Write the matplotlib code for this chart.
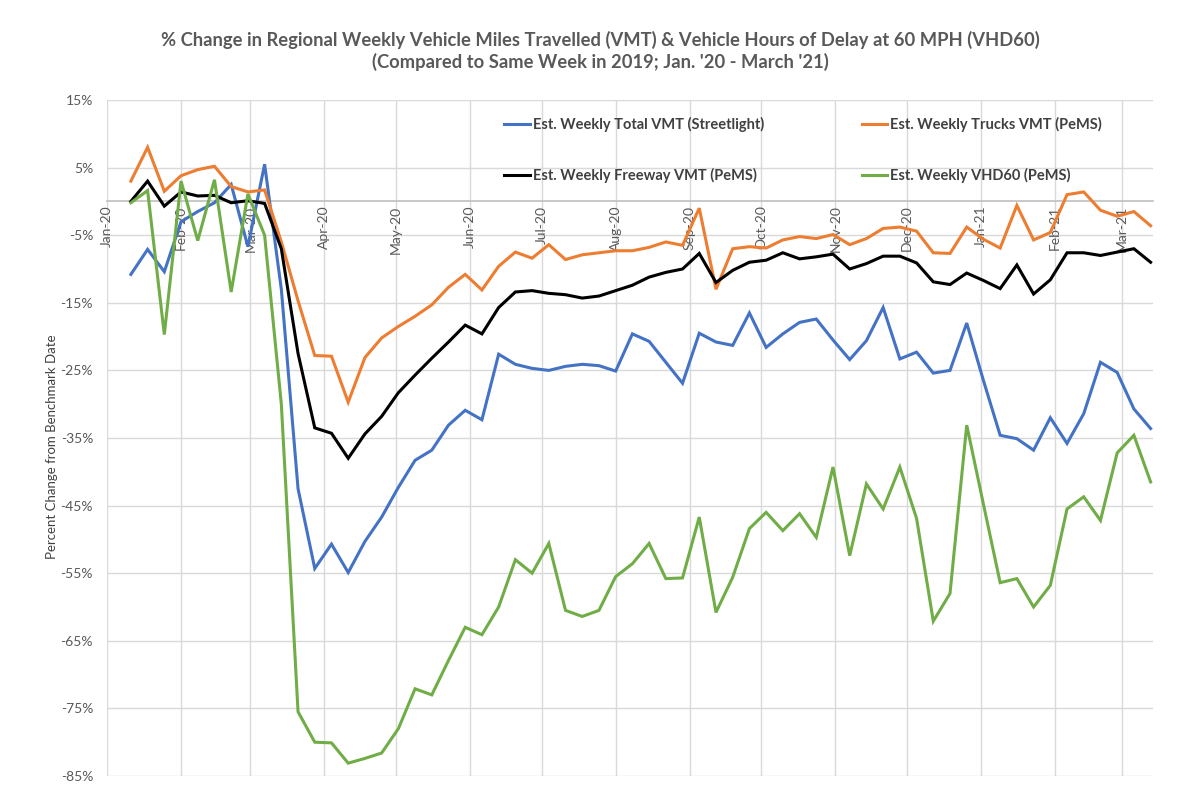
import matplotlib
matplotlib.use("Agg")
import matplotlib.pyplot as plt
import matplotlib.dates as mdates
from matplotlib.ticker import FixedLocator, FuncFormatter
import pandas as pd

plt.rcParams['font.family'] = ['Lato', 'DejaVu Sans']

# Weekly periods (week ending Saturday), Jan 2020 - Mar 2021
week_ending = pd.date_range('2020-01-11', periods=62, freq='7D')

total_vmt_streetlight = [
    -10.8, -7.1, -10.4, -3.0, -1.5, -0.2, 2.5, -6.7, 5.5, -13.0,
    -42.5, -54.3, -50.7, -54.9, -50.3, -46.7, -42.3, -38.3, -36.8, -33.1,
    -30.9, -32.3, -22.6, -24.1, -24.7, -25.0, -24.4, -24.1, -24.3, -25.1,
    -19.6, -20.7, -23.8, -26.9, -19.5, -20.8, -21.3, -16.5, -21.6, -19.6,
    -17.9, -17.4, -20.5, -23.4, -20.6, -15.7, -23.3, -22.3, -25.4, -25.0,
    -18.0, -26.5, -34.6, -35.1, -36.8, -32.0, -35.8, -31.4, -23.8, -25.3,
    -30.7, -33.6,
]
trucks_vmt_pems = [
    3.0, 8.0, 1.5, 3.8, 4.7, 5.2, 2.2, 1.4, 1.7, -6.0,
    -14.7, -22.8, -22.9, -29.7, -23.1, -20.2, -18.5, -17.0, -15.3, -12.7,
    -10.8, -13.1, -9.6, -7.5, -8.4, -6.4, -8.6, -7.9, -7.6, -7.3,
    -7.3, -6.8, -6.0, -6.5, -1.0, -13.0, -7.0, -6.7, -6.9, -5.7,
    -5.2, -5.5, -4.9, -6.4, -5.5, -4.0, -3.8, -4.4, -7.6, -7.7,
    -3.8, -5.6, -6.9, -0.6, -5.7, -4.6, 1.0, 1.4, -1.3, -2.2,
    -1.5, -3.6,
]
freeway_vmt_pems = [
    0.0, 3.0, -0.7, 1.4, 0.8, 0.9, -0.2, 0.1, -0.3, -7.0,
    -22.5, -33.5, -34.3, -38.0, -34.4, -31.8, -28.3, -25.7, -23.2, -20.8,
    -18.3, -19.6, -15.7, -13.4, -13.2, -13.6, -13.8, -14.3, -14.0, -13.2,
    -12.4, -11.2, -10.5, -10.0, -7.7, -12.0, -10.2, -9.0, -8.7, -7.6,
    -8.5, -8.2, -7.8, -10.0, -9.2, -8.1, -8.1, -9.1, -11.9, -12.3,
    -10.6, -11.7, -12.9, -9.4, -13.7, -11.6, -7.6, -7.6, -8.0, -7.5,
    -7.0, -9.0,
]
vhd60_pems = [
    -0.2, 1.6, -19.7, 3.0, -5.8, 3.2, -13.4, 1.1, -5.0, -30.0,
    -75.5, -80.0, -80.1, -83.1, -82.4, -81.6, -78.0, -72.1, -73.0, -67.9,
    -63.0, -64.1, -60.0, -53.0, -55.0, -50.6, -60.5, -61.4, -60.5, -55.5,
    -53.6, -50.6, -55.8, -55.7, -46.7, -60.8, -55.6, -48.4, -46.0, -48.7,
    -46.2, -49.7, -39.3, -52.4, -41.8, -45.5, -39.3, -46.9, -62.1, -58.0,
    -33.1, -44.8, -56.4, -55.8, -60.0, -56.8, -45.5, -43.7, -47.2, -37.2,
    -34.6, -41.5,
]

series_labels = [
    'Est. Weekly Total VMT (Streetlight)',
    'Est. Weekly Trucks VMT (PeMS)',
    'Est. Weekly Freeway VMT (PeMS)',
    'Est. Weekly VHD60 (PeMS)',
]
series_colors = ['#4472C4', '#ED7D31', '#000000', '#70AD47']

y_ticks = [15, 5, -5, -15, -25, -35, -45, -55, -65, -75, -85]
month_ticks = pd.date_range('2020-01-01', '2021-03-01', freq='MS')

title_lines = [
    '% Change in Regional Weekly Vehicle Miles Travelled (VMT) & Vehicle Hours of Delay at 60 MPH (VHD60)',
    "(Compared to Same Week in 2019; Jan. '20 - March '21)",
]
y_label = 'Percent Change from Benchmark Date'

W, H = 1193, 798
fig = plt.figure(figsize=(W / 100, H / 100), dpi=100)
fig.patch.set_facecolor('white')

ax = fig.add_axes([107 / W, 1 - 776 / H, (1153 - 107) / W, (776 - 100) / H])

grid_color = '#d9d9d9'
text_color = '#595959'

for yv in y_ticks:
    ax.axhline(yv, color=grid_color, lw=1.0, zorder=0)
for mt in month_ticks:
    ax.axvline(mt, color=grid_color, lw=1.0, zorder=0)

all_series = [total_vmt_streetlight, trucks_vmt_pems, freeway_vmt_pems, vhd60_pems]
handles = []
for vals, lab, col in zip(all_series, series_labels, series_colors):
    h, = ax.plot(week_ending, vals, color=col, lw=2.2, label=lab,
                 solid_joinstyle='miter', zorder=3)
    handles.append(h)

ax.set_xlim(pd.Timestamp('2020-01-01'), pd.Timestamp('2021-03-14'))
ax.set_ylim(-85, 15)

for side in ['left', 'right', 'top']:
    ax.spines[side].set_visible(False)
ax.spines['bottom'].set_position(('data', 0))
ax.spines['bottom'].set_color('#bfbfbf')
ax.spines['bottom'].set_linewidth(1.2)
ax.spines['bottom'].set_zorder(1)

ax.xaxis.set_major_locator(FixedLocator(mdates.date2num(month_ticks)))
ax.xaxis.set_major_formatter(mdates.DateFormatter('%b-%y'))
ax.tick_params(axis='x', length=0, pad=3, labelsize=10, labelcolor=text_color,
               labelrotation=90)
for lbl in ax.get_xticklabels():
    lbl.set_verticalalignment('top')

ax.yaxis.set_major_locator(FixedLocator(y_ticks))
ax.yaxis.set_major_formatter(FuncFormatter(lambda v, p: f'{v:.0f}%'))
ax.tick_params(axis='y', length=0, pad=10, labelsize=10, labelcolor=text_color)

fig.text(600 / W, 1 - 40 / H, title_lines[0], ha='center', va='center',
         fontsize=13.2, fontweight='bold', color=text_color)
fig.text(600 / W, 1 - 62 / H, title_lines[1], ha='center', va='center',
         fontsize=13.2, fontweight='bold', color=text_color)

fig.text(52 / W, 1 - 447 / H, y_label, rotation=90, ha='center', va='center',
         fontsize=9.5, color='#404040')

leg = fig.legend([handles[0], handles[2], handles[1], handles[3]],
                 [series_labels[0], series_labels[2], series_labels[1], series_labels[3]],
                 ncol=2, loc='upper left', bbox_to_anchor=(497 / W, 1 - 110 / H),
                 frameon=False, borderpad=0, handlelength=1.75, handletextpad=0.2,
                 columnspacing=6.7, labelspacing=2.43,
                 prop={'size': 10.5, 'weight': 'bold'})
for t in leg.get_texts():
    t.set_color('#404040')
for lh in leg.get_lines():
    lh.set_linewidth(2.2)

fig.savefig('out.png', dpi=100, facecolor='white')
